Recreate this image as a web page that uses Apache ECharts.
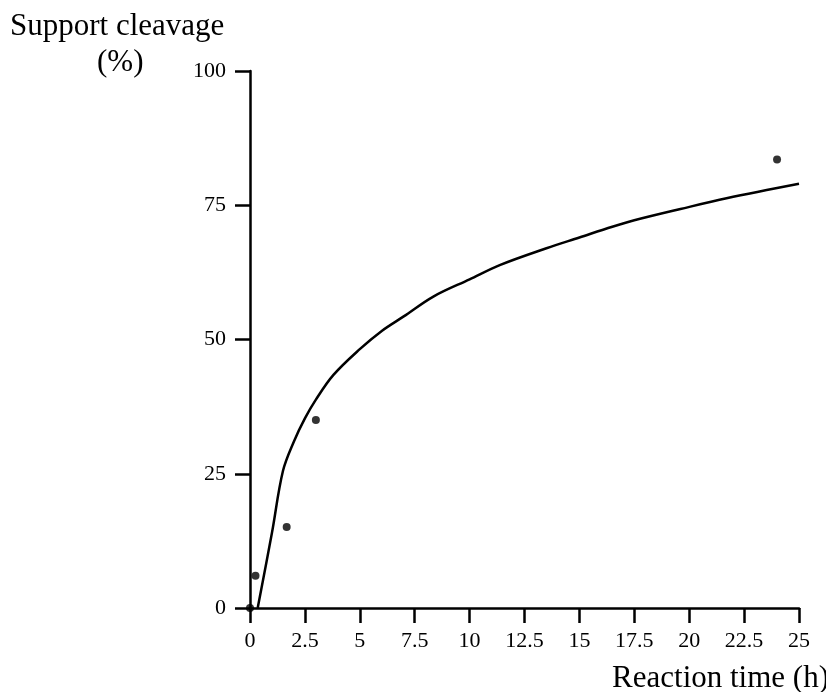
<!DOCTYPE html>
<html>
<head>
<meta charset="utf-8">
<script src="https://cdn.jsdelivr.net/npm/echarts@6/dist/echarts.min.js"></script>
<style>html,body{margin:0;padding:0;background:#fff}#c{width:826px;height:692px}</style>
</head>
<body>
<div id="c"></div>
<script>
// Measured data points (reaction time h, support cleavage %)
const pointTimes = [0, 0.25, 1.67, 3.0, 24.0];
const pointValues = [0, 6, 15.1, 35, 83.5];
// Fitted curve
const curveTimes = [0.35, 1.0, 1.5, 2.0, 2.5, 3.0, 3.8, 5.0, 6.0, 7.0, 8.35, 10.0, 11.4, 13.5, 15.0, 16.5, 17.5, 19.6, 21.7, 25.0];
const curveValues = [0, 14, 25.5, 31, 35.3, 38.8, 43.4, 48.2, 51.6, 54.3, 58, 61.2, 63.9, 67, 69, 71, 72.2, 74.3, 76.3, 79];
const xTicks = ['0','2.5','5','7.5','10','12.5','15','17.5','20','22.5','25'];
const yTicks = ['0','25','50','75','100'];

const font = 'Liberation Serif, Times New Roman, serif';
const chart = echarts.init(document.getElementById('c'));
chart.setOption({
  animation: false,
  backgroundColor: '#fff',
  grid: { left: 250, right: 27, top: 71, bottom: 84 },
  xAxis: {
    type: 'value', min: 0, max: 25, interval: 2.5,
    axisLine: { show: true, onZero: false, lineStyle: { color: '#000', width: 2.5 } },
    axisTick: { show: true, length: 15, lineStyle: { color: '#000', width: 2.5 } },
    splitLine: { show: false },
    axisLabel: { color: '#000', fontFamily: font, fontSize: 22, margin: 22,
      formatter: v => xTicks[Math.round(v / 2.5)] }
  },
  yAxis: {
    type: 'value', min: 0, max: 100, interval: 25,
    axisLine: { show: true, onZero: false, lineStyle: { color: '#000', width: 2.5 } },
    axisTick: { show: true, length: 15, lineStyle: { color: '#000', width: 2.5 } },
    splitLine: { show: false },
    axisLabel: { color: '#000', fontFamily: font, fontSize: 22, margin: 24,
      formatter: v => yTicks[Math.round(v / 25)] }
  },
  graphic: [
    { type: 'text', left: 10, top: 11, style: { text: 'Support cleavage', font: '31px ' + font, fill: '#000' } },
    { type: 'text', left: 97, top: 47, style: { text: '(%)', font: '31px ' + font, fill: '#000' } },
    { type: 'text', right: -3, top: 663, style: { text: 'Reaction time (h)', font: '31px ' + font, fill: '#000' } }
  ],
  series: [
    {
      type: 'line', smooth: 0.35, showSymbol: false,
      lineStyle: { color: '#000', width: 2.5 },
      data: curveTimes.map((t, i) => [t, curveValues[i]]),
      z: 2
    },
    {
      type: 'scatter', symbol: 'circle', symbolSize: 8,
      itemStyle: { color: '#000' },
      data: pointTimes.map((t, i) => [t, pointValues[i]]),
      z: 3
    }
  ]
});
</script>
</body>
</html>
